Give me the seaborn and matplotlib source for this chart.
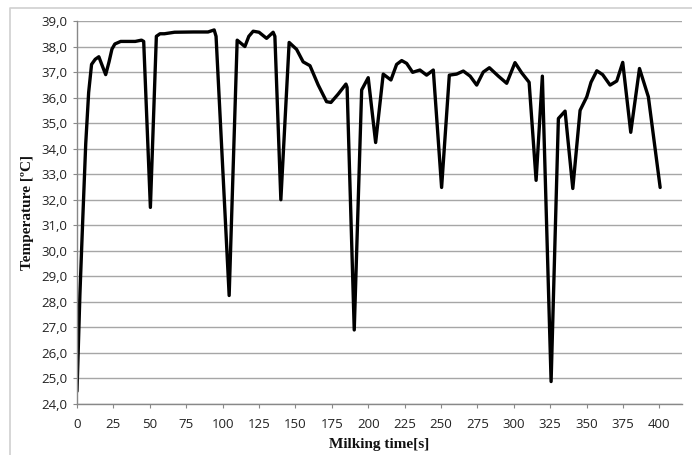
import matplotlib
matplotlib.use("Agg")
import matplotlib.pyplot as plt
import seaborn as sns
import pandas as pd
from matplotlib.lines import Line2D

time_s = [0, 2, 4, 6, 8, 10, 12.5, 15, 17, 19.7, 22, 24, 26, 30, 35, 40, 44.3, 45.8,
          50.4, 54.5, 57, 60, 67, 80, 90, 94.2, 95.5, 104.5, 110, 115.3, 118, 121,
          125, 130.2, 134.7, 135.9, 140, 145.7, 150.8, 155.3, 160, 165.6, 171.4,
          174.4, 179.4, 184.7, 185.5, 190.4, 195.5, 200, 205.1, 210.3, 215.6, 219.5,
          223, 226.4, 230.5, 235.5, 240.1, 244.7, 250.4, 255.7, 260.7, 265.3, 270,
          274.5, 279, 283.2, 289.4, 295.1, 300.8, 305.4, 310.5, 315.3, 319.6, 325.6,
          330.6, 335.2, 340.5, 345.5, 350.1, 353, 357, 361, 366.1, 370.7, 374.8,
          380.3, 386.3, 392.4, 400.5]
temperature = [24.5, 28.3, 31.3, 34.2, 36.2, 37.3, 37.5, 37.6, 37.3, 36.9, 37.4, 37.9,
               38.1, 38.2, 38.2, 38.2, 38.25, 38.2, 31.7, 38.4, 38.5, 38.5, 38.56,
               38.57, 38.57, 38.65, 38.4, 28.25, 38.25, 38.0, 38.4, 38.6, 38.56, 38.32,
               38.56, 38.4, 32.0, 38.16, 37.89, 37.4, 37.25, 36.5, 35.84, 35.81, 36.14,
               36.53, 36.4, 26.9, 36.3, 36.78, 34.24, 36.92, 36.69, 37.3, 37.45, 37.34,
               36.99, 37.08, 36.88, 37.08, 32.48, 36.88, 36.92, 37.04, 36.84, 36.49,
               37.0, 37.17, 36.84, 36.56, 37.37, 36.97, 36.6, 32.76, 36.84, 24.88,
               35.18, 35.47, 32.44, 35.5, 36.03, 36.6, 37.05, 36.9, 36.49, 36.65, 37.38,
               34.64, 37.14, 36.03, 32.48]

x_ticks = list(range(0, 401, 25))
y_ticks = [24 + i for i in range(16)]
y_tick_labels = [f"{v:.1f}".replace(".", ",") for v in y_ticks]
x_label = "Milking time[s]"
y_label = "Temperature [ºC]"

df = pd.DataFrame({"time": time_s, "temp": temperature})

sns.set_theme(style="white")
plt.rcParams["font.family"] = ["Open Sans", "DejaVu Sans"]

fig = plt.figure(figsize=(6.92, 4.55), dpi=100)
ax = fig.add_axes([77 / 692, 1 - 404 / 455, (682 - 77) / 692, (404 - 21) / 455])

sns.lineplot(data=df, x="time", y="temp", ax=ax, color="black", linewidth=2.4,
             sort=False, estimator=None)

ax.set_xlim(0, 415.5)
ax.set_ylim(24, 39)
ax.set_xticks(x_ticks)
ax.set_xticklabels([str(v) for v in x_ticks])
ax.set_yticks(y_ticks)
ax.set_yticklabels(y_tick_labels)
ax.yaxis.grid(True, color="#a6a6a6", linewidth=1.0)
ax.xaxis.grid(False)
ax.set_axisbelow(True)

for s in ["top", "right"]:
    ax.spines[s].set_visible(False)
for s in ["left", "bottom"]:
    ax.spines[s].set_color("#888888")
    ax.spines[s].set_linewidth(1.0)

ax.tick_params(axis="both", which="major", direction="out", length=3, width=0.8,
               color="#888888", labelsize=9.5, labelcolor="#222222", pad=4,
               bottom=True, left=True)
ax.tick_params(axis="x", pad=7)

ax.set_xlabel(x_label, family="Liberation Serif", fontweight="bold", fontsize=11,
              color="#111111", labelpad=5)
ax.set_ylabel(y_label, family="Liberation Serif", fontweight="bold", fontsize=11,
              color="#111111", labelpad=5)

# outer chart border (left and top)
fig.add_artist(Line2D([10 / 692, 10 / 692, 1.0], [0.0, 1 - 8 / 455, 1 - 8 / 455],
                      transform=fig.transFigure, color="#d0d0d0", linewidth=1.2))

fig.savefig("out.png", dpi=100)
